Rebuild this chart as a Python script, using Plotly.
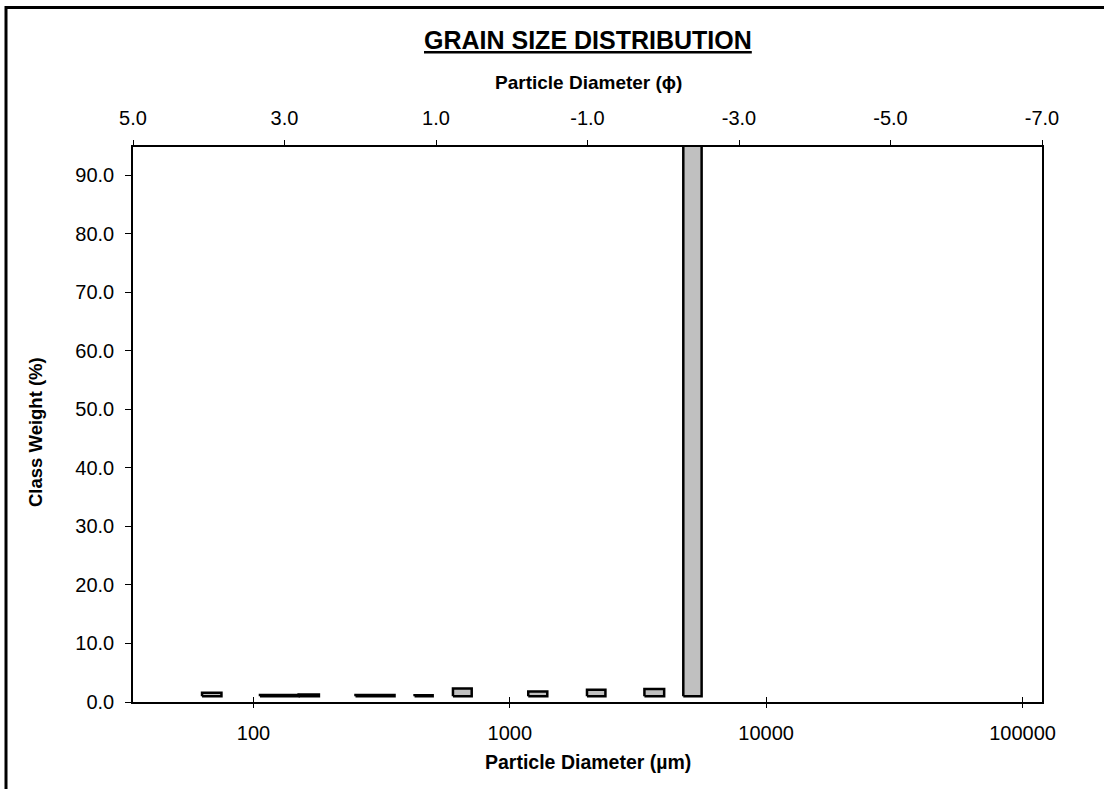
import plotly.graph_objects as go

# Sieve class edges (µm) and class weight tops (%)
sieve_lower = [63, 106, 150, 250, 425, 600, 1180, 2000, 3350, 4750]
sieve_upper = [75, 150, 180, 355, 500, 710, 1400, 2360, 4000, 5600]
class_top = [1.6, 1.2, 1.3, 1.2, 1.15, 2.3, 1.8, 2.1, 2.2, 95.2]
bar_base = 1.0

um_ticks = [100, 1000, 10000, 100000]
um_ticktext = ["100", "1000", "10000", "100000"]
phi_ticks = [5, 3, 1, -1, -3, -5, -7]
phi_ticktext = ["5.0", "3.0", "1.0", "-1.0", "-3.0", "-5.0", "-7.0"]
y_ticks = [0, 10, 20, 30, 40, 50, 60, 70, 80, 90]

W, H = 1104, 789
L, R, T, B = 133, 62, 147, 87
PW, PH = W - L - R, H - T - B


def px(x):
    return (x - L) / PW


def py(y):
    return (H - B - y) / PH


FONT = "Liberation Sans, Arial, sans-serif"
X_RANGE = [1.530, 5.076]
TICK_SIZE = 20

fig = go.Figure()
for lo, hi, top in zip(sieve_lower, sieve_upper, class_top):
    fig.add_trace(go.Scatter(
        x=[lo, lo, hi, hi, lo], y=[bar_base, top, top, bar_base, bar_base],
        mode="lines", fill="toself", fillcolor="#C0C0C0",
        line=dict(color="black", width=2.5), showlegend=False, hoverinfo="skip",
        xaxis="x", yaxis="y"))

# dummy traces to activate the secondary axes
fig.add_trace(go.Scatter(x=[5, -7], y=[0, 0], mode="markers", marker=dict(opacity=0),
                         xaxis="x2", yaxis="y", showlegend=False, hoverinfo="skip"))
fig.add_trace(go.Scatter(x=[100, 1000], y=[0, 0], mode="markers", marker=dict(opacity=0),
                         xaxis="x3", yaxis="y", showlegend=False, hoverinfo="skip"))

fig.update_layout(
    width=W, height=H,
    margin=dict(l=L, r=R, t=T, b=B),
    paper_bgcolor="white", plot_bgcolor="white",
    font=dict(family=FONT, color="black"),
    xaxis=dict(type="log", range=X_RANGE, tickvals=um_ticks, ticktext=um_ticktext,
               ticks="outside", ticklen=4, tickwidth=1, tickcolor="black",
               ticklabelstandoff=8,
               showline=True, linecolor="black", linewidth=1.5,
               showgrid=False, zeroline=False, tickfont=dict(size=TICK_SIZE)),
    xaxis3=dict(type="log", range=X_RANGE, tickvals=um_ticks, overlaying="x",
                anchor="y", side="bottom", ticks="inside", ticklen=5, tickwidth=1,
                tickcolor="black", showticklabels=False, showline=False,
                showgrid=False, zeroline=False),
    xaxis2=dict(range=[5, -7], tickvals=phi_ticks, ticktext=phi_ticktext,
                overlaying="x", anchor="y", side="top",
                ticks="outside", ticklen=5, tickwidth=1, tickcolor="black",
                ticklabelstandoff=7,
                showline=True, linecolor="black", linewidth=1.5,
                showgrid=False, zeroline=False, tickfont=dict(size=TICK_SIZE)),
    yaxis=dict(range=[0, 94.8], tickvals=y_ticks, tickformat=".1f",
               ticks="outside", ticklen=6, tickwidth=1, tickcolor="black",
               ticklabelstandoff=7,
               showline=True, linecolor="black", linewidth=1.5, mirror=True,
               showgrid=False, zeroline=False, tickfont=dict(size=TICK_SIZE)),
    annotations=[
        dict(text="<b><u>GRAIN SIZE DISTRIBUTION</u></b>", x=px(588), y=py(40),
             xref="paper", yref="paper", showarrow=False, font=dict(size=25),
             xanchor="center", yanchor="middle"),
        dict(text="<b>Particle Diameter (ϕ)</b>", x=px(588), y=py(82),
             xref="paper", yref="paper", showarrow=False, font=dict(size=19),
             xanchor="center", yanchor="middle"),
        dict(text="<b>Particle Diameter (µm)</b>", x=px(588), y=py(762),
             xref="paper", yref="paper", showarrow=False, font=dict(size=19.5),
             xanchor="center", yanchor="middle"),
        dict(text="<b>Class Weight (%)</b>", x=px(35), y=py(432), textangle=-90,
             xref="paper", yref="paper", showarrow=False, font=dict(size=18.5),
             xanchor="center", yanchor="middle"),
    ],
    shapes=[dict(type="rect", xref="paper", yref="paper",
                 x0=px(6), x1=px(1115), y0=py(800), y1=py(7.5),
                 line=dict(color="black", width=3), layer="above")],
)

fig.write_html("out.html",
               config={"displayModeBar": False},
               post_script="document.body.style.margin='0';"
                           "document.body.style.overflow='hidden';")
